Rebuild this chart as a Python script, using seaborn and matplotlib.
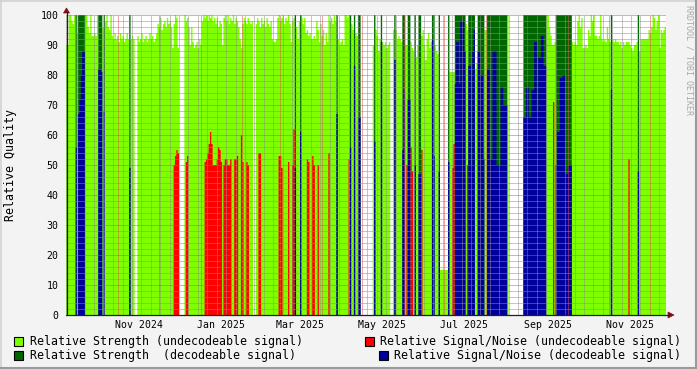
import numpy as np
import pandas as pd
import matplotlib
matplotlib.use("Agg")
import matplotlib.pyplot as plt
import matplotlib.dates as mdates
import matplotlib.transforms as mtransforms
from matplotlib.patches import Rectangle, Polygon
from matplotlib.lines import Line2D
from matplotlib.ticker import MultipleLocator, NullFormatter
import seaborn as sns

# ---------------- data (one value per day) ----------------
start_date = "2024-09-23"

# L = undecodeable signal, D = decodeable signal, N = no data
state_runs = [("L", 7), ("D", 1), ("L", 1), ("D", 5), ("L", 10), ("D", 3), ("L", 1), ("D", 1),
              ("L", 18), ("D", 1), ("L", 3), ("N", 2), ("L", 31), ("N", 4), ("L", 51), ("N", 2),
              ("L", 29), ("D", 1), ("L", 3), ("D", 1), ("L", 26), ("D", 1), ("L", 9), ("D", 1),
              ("L", 2), ("D", 1), ("L", 2), ("D", 2), ("N", 9), ("L", 1), ("D", 1), ("L", 4),
              ("D", 1), ("L", 6), ("N", 2), ("L", 1), ("D", 1), ("L", 5), ("D", 2), ("L", 2),
              ("D", 2), ("L", 3), ("D", 1), ("L", 2), ("D", 2), ("L", 8), ("D", 2), ("L", 3),
              ("D", 1), ("L", 6), ("D", 1), ("L", 4), ("D", 8), ("L", 2), ("D", 5), ("L", 2),
              ("D", 5), ("L", 2), ("D", 15), ("L", 1), ("N", 11), ("D", 17), ("L", 7), ("D", 12),
              ("L", 29), ("D", 1), ("L", 19), ("D", 1), ("L", 20)]

strength = [
    90, 90, 100, 100, 98, 97, 100, 100, 94, 100,
    100, 100, 100, 100, 100, 100, 96, 94, 100, 93,
    93, 94, 93, 100, 100, 100, 100, 96, 100, 98,
    100, 96, 95, 100, 93, 92, 94, 92, 93, 91,
    94, 92, 93, 91, 92, 94, 92, 100, 92, 93,
    92, 0, 0, 93, 91, 92, 94, 91, 92, 93,
    91, 92, 94, 92, 93, 91, 92, 94, 97, 96,
    99, 95, 97, 98, 96, 99, 97, 98, 96, 89,
    97, 100, 99, 89, 0, 0, 0, 0, 100, 98,
    99, 96, 90, 96, 91, 89, 90, 91, 89, 92,
    90, 98, 100, 99, 100, 98, 100, 99, 100, 98,
    99, 97, 99, 96, 98, 97, 90, 99, 100, 98,
    100, 97, 99, 98, 100, 97, 99, 98, 96, 92,
    89, 97, 99, 98, 97, 99, 98, 97, 98, 0,
    0, 97, 99, 98, 96, 99, 97, 98, 96, 99,
    97, 96, 98, 92, 91, 91, 92, 99, 100, 98,
    99, 100, 97, 99, 98, 100, 97, 91, 98, 99,
    100, 96, 92, 98, 100, 99, 97, 99, 94, 95,
    93, 94, 92, 92, 93, 92, 98, 95, 91, 97,
    93, 95, 90, 94, 91, 100, 98, 99, 97, 100,
    98, 100, 92, 90, 91, 92, 90, 100, 100, 99,
    100, 100, 97, 95, 100, 94, 93, 100, 100, 0,
    0, 0, 0, 0, 0, 0, 0, 0, 90, 100,
    95, 93, 88, 92, 100, 91, 90, 91, 89, 90,
    91, 0, 0, 95, 100, 95, 92, 93, 92, 91,
    100, 100, 90, 90, 100, 100, 91, 89, 88, 100,
    86, 90, 100, 100, 93, 95, 90, 85, 92, 94,
    89, 91, 100, 100, 90, 88, 87, 100, 15, 15,
    15, 15, 15, 15, 100, 81, 81, 81, 81, 100,
    100, 100, 100, 100, 100, 100, 100, 97, 95, 100,
    100, 100, 100, 100, 82, 84, 100, 100, 100, 100,
    100, 95, 95, 100, 100, 100, 100, 100, 100, 100,
    100, 100, 100, 100, 100, 100, 100, 100, 100, 0,
    0, 0, 0, 0, 0, 0, 0, 0, 0, 0,
    100, 100, 100, 100, 100, 100, 100, 100, 100, 100,
    100, 100, 100, 100, 100, 100, 100, 100, 100, 96,
    93, 90, 90, 91, 100, 100, 100, 100, 100, 100,
    100, 100, 100, 100, 100, 100, 91, 90, 91, 90,
    98, 100, 96, 99, 89, 89, 90, 89, 95, 93,
    100, 98, 100, 93, 93, 92, 93, 100, 92, 91,
    92, 91, 96, 92, 91, 100, 92, 91, 92, 91,
    91, 90, 91, 89, 91, 90, 91, 91, 91, 90,
    89, 88, 90, 90, 91, 100, 88, 92, 92, 92,
    92, 92, 92, 95, 94, 96, 100, 99, 95, 98,
    100, 89, 95, 94, 95, 96,
]

snr_days = [7, 9, 10, 11, 12, 13, 24, 25, 26, 28, 47,
            80, 81, 82, 83, 89, 90,
            103, 104, 105, 106, 107, 108, 109, 110, 111, 112, 113, 114, 115,
            117, 118, 119, 120, 121, 122, 125, 126, 127, 130, 131, 134, 135,
            143, 144, 158, 159, 160, 165, 168, 169, 170, 174, 179, 180, 183, 184, 187, 195,
            201, 210, 211, 214, 217, 218,
            229, 234, 244, 250, 251, 253, 254, 255, 256, 257, 259, 262, 263, 264, 272, 273, 277,
            284, 287, 288, 289, 290, 291, 292, 293, 294, 295, 296, 298, 299, 300, 301, 302, 303,
            306, 307, 308, 309, 310, 313, 314, 315, 316, 317, 318, 319, 320, 321, 322, 323, 324,
            325, 326, 327,
            340, 341, 342, 343, 344, 345, 346, 347, 348, 349, 350, 351, 352, 353, 354, 355, 356,
            362, 364, 365, 366, 367, 368, 369, 370, 371, 372, 373, 374, 375,
            405, 418, 425]
snr_values = [56, 67, 72, 80, 88, 88, 82, 82, 81, 68, 49,
              50, 53, 55, 54, 51, 53,
              51, 52, 54, 57, 61, 57, 50, 50, 50, 52, 56, 55, 51,
              50, 52, 52, 50, 50, 52, 52, 52, 53, 60, 51, 51, 50,
              54, 54, 53, 53, 49, 51, 50, 62, 49, 61, 52, 51, 53, 50, 50, 54,
              67, 52, 56, 83, 66, 66,
              58, 91, 85, 55, 75, 50, 72, 72, 56, 48, 50, 47, 47, 55, 92, 53, 48,
              51, 49, 57, 77, 91, 91, 77, 98, 98, 98, 88, 50, 83, 83, 50, 88, 95,
              88, 88, 80, 80, 52, 82, 82, 52, 52, 88, 88, 88, 50, 50, 50, 76, 76,
              70, 70, 70,
              66, 66, 76, 76, 66, 66, 75, 75, 91, 91, 68, 86, 86, 93, 93, 83, 83,
              71, 50, 61, 61, 79, 79, 80, 80, 47, 47, 50, 50, 50,
              75, 52, 48]

x_labels = ["Nov 2024", "Jan 2025", "Mar 2025", "May 2025", "Jul 2025", "Sep 2025", "Nov 2025"]
x_label_dates = ["2024-11-16", "2025-01-16", "2025-03-16", "2025-05-16", "2025-07-16",
                 "2025-09-16", "2025-11-16"]

legend_labels = ["Relative Strength (undecodeable signal)",
                 "Relative Signal/Noise (undecodeable signal)",
                 "Relative Strength  (decodeable signal)",
                 "Relative Signal/Noise (decodeable signal)"]

# ---------------- styling ----------------
LIGHT = "#80FF00"
DARK = "#006600"
RED = "#FF0000"
BLUE = "#00009C"
MGRID = (0.88, 0.31, 0.31, 0.38)
GRID = (0.56, 0.56, 0.56, 0.22)
BG = "#F3F3F3"

sns.set_style("white")
plt.rcParams["font.family"] = ["DejaVu Sans Mono"]

W, H = 697, 369
def fx(p):
    return p / W
def fy(p):
    return 1 - p / H

fig = plt.figure(figsize=(W / 100, H / 100), dpi=100, facecolor=BG)
ax = fig.add_axes([fx(66), (H - 315) / H, 600 / W, 300 / H])
ax.set_facecolor("white")

n = len(strength)
state = np.array(list("".join(s * k for s, k in state_runs)))
assert len(state) == n
strength_arr = np.array(strength, dtype=float)
snr = np.zeros(n)
snr[np.array(snr_days)] = snr_values

dates = pd.date_range(start_date, periods=n, freq="D")
x0 = mdates.date2num(dates.to_pydatetime())
edges = np.append(x0, x0[-1] + 1)
centers = x0 + 0.5

layers = [
    (np.where(state == "L", strength_arr, 0), LIGHT),
    (np.where(state == "D", strength_arr, 0), DARK),
    (np.where(state == "L", snr, 0), RED),
    (np.where(state == "D", snr, 0), BLUE),
]
for w, c in layers:
    df = pd.DataFrame({"x": centers, "w": w})
    sns.histplot(data=df, x="x", weights="w", bins=edges.tolist(), element="step", fill=True,
                 color=c, alpha=1, linewidth=0, edgecolor="none", ax=ax)

ax.set_xlim(edges[0], edges[-1])
ax.set_ylim(0, 100)
ax.set_xlabel("")
ax.set_ylabel("")

ax.xaxis.set_major_locator(mdates.MonthLocator())
ax.xaxis.set_minor_locator(mdates.WeekdayLocator(byweekday=mdates.MO))
ax.xaxis.set_major_formatter(NullFormatter())
ax.xaxis.set_minor_formatter(NullFormatter())
ax.yaxis.set_major_locator(MultipleLocator(10))
ax.yaxis.set_minor_locator(MultipleLocator(2))

ax.set_axisbelow(False)
ax.grid(True, which="major", color=MGRID, linestyle=(0, (1, 1)), linewidth=0.72)
ax.grid(True, which="minor", color=GRID, linestyle=(0, (1, 1)), linewidth=0.72)

ax.tick_params(which="major", length=4, width=0.72, color=(0.88, 0.31, 0.31), direction="inout")
ax.tick_params(which="minor", length=3, width=0.72, color=(0.7, 0.7, 0.7), direction="inout")
ax.tick_params(axis="y", labelsize=7.1, pad=3.4, labelcolor="black")
ax.tick_params(axis="x", labelbottom=False)
for s in ax.spines.values():
    s.set_visible(False)

# x labels (centred on mid-month)
blend = mtransforms.blended_transform_factory(ax.transData, fig.transFigure)
for lab, d in zip(x_labels, x_label_dates):
    ax.text(mdates.date2num(pd.Timestamp(d).to_pydatetime()), fy(325), lab,
            transform=blend, ha="center", va="center", fontsize=7.1, color="black")

# axis lines with arrows
fig.add_artist(Line2D([fx(66), fx(669)], [fy(315), fy(315)], color="#202020", lw=0.9))
fig.add_artist(Line2D([fx(66.5), fx(66.5)], [fy(315), fy(12)], color="#202020", lw=0.9))
fig.add_artist(Polygon([[fx(668), fy(312)], [fx(674), fy(315)], [fx(668), fy(318)]],
                       closed=True, facecolor="#801010", edgecolor="#801010", lw=0.5,
                       transform=fig.transFigure))
fig.add_artist(Polygon([[fx(63.5), fy(13)], [fx(66.5), fy(8)], [fx(69.5), fy(13)]],
                       closed=True, facecolor="#801010", edgecolor="#801010", lw=0.5,
                       transform=fig.transFigure))

# y label and watermark
fig.text(fx(11), fy(165), "Relative Quality", rotation=90, ha="center", va="center",
         fontsize=8.4, color="black")
fig.text(fx(688.5), fy(60), "RRDTOOL / TOBI OETIKER", rotation=270, ha="center",
         va="center", fontsize=6, color="#A8A8A8")

# legend
legend_pos = [(14, 337, 30, LIGHT), (365, 337, 380, RED), (14, 351, 30, DARK), (379, 351, 394, BLUE)]
for (sx, sy, tx, col), lab in zip(legend_pos, legend_labels):
    fig.add_artist(Rectangle((fx(sx), fy(sy + 9)), 9 / W, 9 / H, facecolor=col,
                             edgecolor="black", linewidth=0.8, transform=fig.transFigure))
    fig.text(fx(tx), fy(sy + 4.5), lab, ha="left", va="center", fontsize=8.4, color="black")

# frame shading
fig.add_artist(Line2D([0, 1], [fy(0.7), fy(0.7)], color="#D2D2D2", lw=1.2))
fig.add_artist(Line2D([fx(0.7), fx(0.7)], [0, 1], color="#D2D2D2", lw=1.2))
fig.add_artist(Line2D([0, 1], [fy(368), fy(368)], color="#9A9A9A", lw=1.5))
fig.add_artist(Line2D([fx(696), fx(696)], [0, 1], color="#9A9A9A", lw=1.5))

fig.savefig("out.png", dpi=100, facecolor=BG)
